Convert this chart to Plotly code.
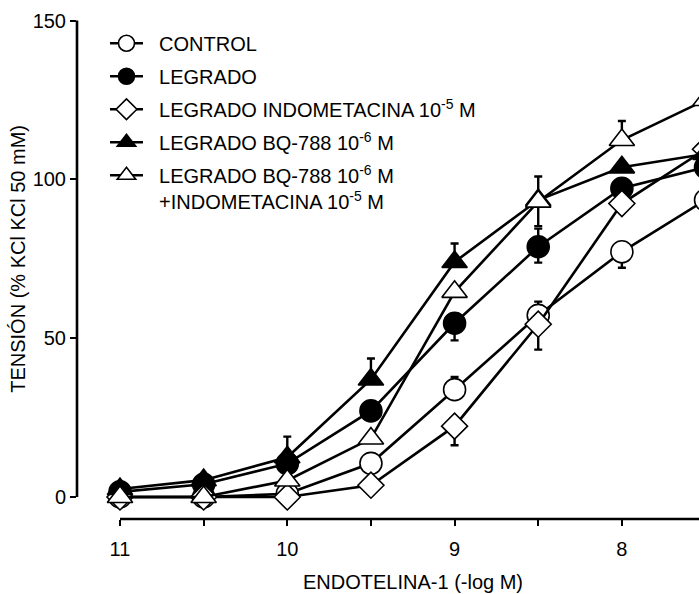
import plotly.graph_objects as go

# ---------------- data ----------------
x_log = [11, 10.5, 10, 9.5, 9, 8.5, 8, 7.5]

control = [0, 0, 1, 10.6, 33.8, 57.2, 77.2, 93.5]
control_up = [0, 0, 0, 0, 4, 4.3, 0, 0]
control_dn = [0, 0, 0, 0, 0, 0, 5, 0]

legrado = [1.6, 4, 10.5, 27.1, 54.7, 78.8, 97.2, 103.8]
legrado_up = [0, 0, 0, 0, 0, 5.7, 0, 0]
legrado_dn = [0, 0, 0, 0, 5.4, 5, 0, 0]

indo = [0, 0, 0, 3.7, 22.3, 54.4, 92.4, 109.5]
indo_up = [0, 0, 0, 0, 0, 0, 0, 0]
indo_dn = [0, 0, 0, 0, 6, 8, 0, 0]

bq = [2.5, 5.3, 12.5, 37, 74, 93.5, 103.8, 108]
bq_up = [0, 0, 6.5, 6.6, 5.8, 0, 0, 0]
bq_dn = [0, 0, 0, 0, 0, 0, 0, 0]

bq_indo = [0, 0, 5.2, 18.4, 64.6, 93, 112.4, 125]
bq_indo_up = [0, 0, 0, 0, 0, 7.9, 6, 0]
bq_indo_dn = [0, 0, 0, 0, 0, 7.7, 0, 0]

names = [
    "CONTROL",
    "LEGRADO",
    "LEGRADO INDOMETACINA 10<sup>-5</sup> M",
    "LEGRADO BQ-788 10<sup>-6</sup> M",
    "LEGRADO BQ-788 10<sup>-6</sup> M<br>+INDOMETACINA 10<sup>-5</sup> M",
]

x_tickvals = [11, 10.5, 10, 9.5, 9, 8.5, 8, 7.5]
x_ticktext = ["11", "", "10", "", "9", "", "8", ""]
y_tickvals = [0, 50, 100, 150]

x_title = "ENDOTELINA-1 (-log M)"
y_title = "TENSIÓN (% KCl KCl 50 mM)"

FONT = "Liberation Sans, Arial, Helvetica, sans-serif"
FS = 20
PAD = "\u00a0\u00a0"  # gap between legend symbol and its text

series = [
    (control, control_up, control_dn, "circle", "white", 22),
    (legrado, legrado_up, legrado_dn, "circle", "black", 22),
    (indo, indo_up, indo_dn, "diamond", "white", 20),
    (bq, bq_up, bq_dn, "triangle-up", "black", 22),
    (bq_indo, bq_indo_up, bq_indo_dn, "triangle-up", "white", 22),
]

fig = go.Figure()
for i, (vals, up, dn, sym, fill, size) in enumerate(series):
    label = "<br>".join(PAD + part for part in names[i].split("<br>"))
    fig.add_trace(go.Scatter(
        x=x_log, y=vals, name=label, legendgroup=f"g{i}",
        mode="lines+markers",
        line=dict(color="black", width=2.6),
        marker=dict(symbol=sym, size=size, color=fill,
                    line=dict(color="black", width=1.6)),
        error_y=dict(type="data", symmetric=False, array=up, arrayminus=dn,
                     color="black", thickness=2.4, width=4),
    ))

x_range = [11.257, 7.539]
y_range = [-6.93, 153.34]

fig.update_layout(
    width=699, height=594,
    margin=dict(l=77, r=0, t=10, b=75),
    plot_bgcolor="white", paper_bgcolor="white",
    font=dict(family=FONT, size=FS, color="black"),
    showlegend=True,
    legend=dict(
        x=0.045, y=0.973, xanchor="left", yanchor="top",
        bgcolor="rgba(0,0,0,0)", font=dict(size=FS, family=FONT),
        tracegroupgap=4, valign="top", itemwidth=33,
    ),
    xaxis=dict(
        range=x_range, showgrid=False, zeroline=False, showline=False,
        tickmode="array", tickvals=x_tickvals, ticktext=x_ticktext,
        ticks="outside", ticklen=6, tickwidth=2.4, tickcolor="black",
        ticklabelstandoff=6, tickfont=dict(size=FS),
    ),
    yaxis=dict(
        range=y_range, showgrid=False, zeroline=False, showline=False,
        tickmode="array", tickvals=y_tickvals,
        ticks="outside", ticklen=6, tickwidth=2.4, tickcolor="black",
        tickfont=dict(size=FS),
    ),
    shapes=[
        dict(type="line", xref="paper", yref="y", x0=0, x1=0,
             y0=min(y_tickvals), y1=max(y_tickvals),
             line=dict(color="black", width=2.6)),
        dict(type="line", xref="x", yref="paper", x0=max(x_log), x1=min(x_log),
             y0=0, y1=0, line=dict(color="black", width=2.6)),
    ],
    annotations=[
        dict(text=x_title, xref="x", yref="paper",
             x=(max(x_log) + min(x_log)) / 2, y=0, yanchor="middle",
             yshift=-63, showarrow=False, font=dict(size=FS)),
        dict(text=y_title, xref="paper", yref="y", x=0,
             y=(min(y_tickvals) + max(y_tickvals)) / 2, xanchor="center",
             xshift=-59, textangle=-90, showarrow=False, font=dict(size=FS)),
    ],
)

fig.write_html("out.html",
               config={"displayModeBar": False},
               post_script="document.body.style.margin='0';document.body.style.overflow='hidden';")
